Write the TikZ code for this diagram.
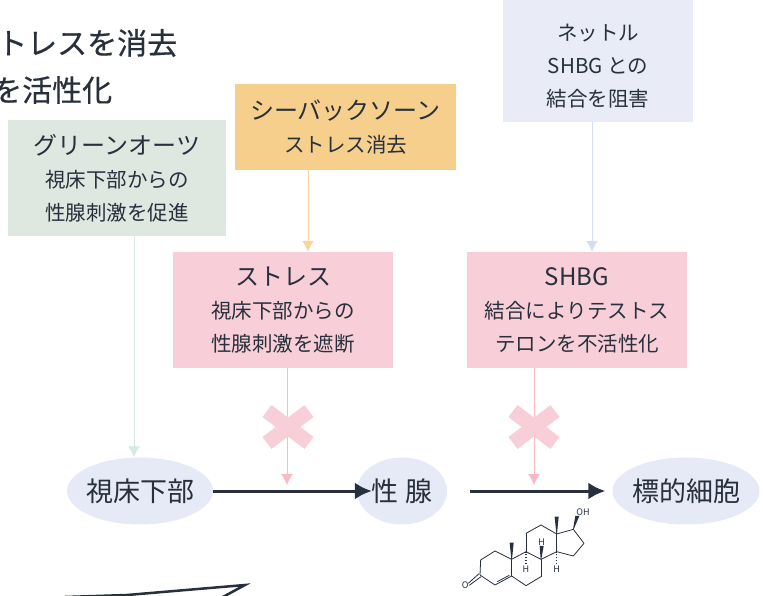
\documentclass[tikz,border=0pt]{standalone}
\usepackage{fontspec}
\setmainfont{Noto Sans CJK JP}
\newfontfamily\headfont[FakeBold=0.5]{Noto Sans CJK JP}
\usetikzlibrary{arrows.meta, calc, shapes.geometric}

\definecolor{inkblue}{HTML}{27303C}
\definecolor{greenfill}{HTML}{DEE8E1}
\definecolor{orangefill}{HTML}{F6CF8C}
\definecolor{bluefill}{HTML}{E9ECF6}
\definecolor{pinkfill}{HTML}{F8CFD8}
\definecolor{ovalfill}{HTML}{E6E9F6}
\definecolor{greenline}{HTML}{D5EBE2}
\definecolor{blueline}{HTML}{D3DFF1}

\newcommand{\boxhead}{\fontsize{24}{33}\selectfont}

\begin{document}
\begin{tikzpicture}[
    x=1pt, y=-1pt,
    labelbox/.style={rectangle, inner sep=0pt, align=center, text=inkblue, font=\fontsize{20.5}{33}\selectfont},
    ovalnode/.style={ellipse, fill=ovalfill, inner sep=-3pt, text=inkblue, font=\fontsize{27}{30}\selectfont},
    headline/.style={anchor=west, inner sep=0pt, text=inkblue, font=\headfont\fontsize{30}{32}\selectfont},
    paleline/.style={line width=1pt, -{Latex[length=11pt, width=12pt]}},
    mainline/.style={line width=3pt, color=inkblue, -{Latex[length=17pt, width=17pt]}},
    bond/.style={line width=0.8pt, color=inkblue},
    atom/.style={inner sep=0pt, text=inkblue, font=\fontsize{9}{9}\selectfont},
]

    \useasboundingbox (0, 0) rectangle (763, 596);
    \clip (0, 0) rectangle (763, 596);

    % heading, cut by the left edge
    \node [headline] (headone) at (-3, 43) {トレスを消去};
    \node [headline] (headtwo) at (-8, 90) {を活性化};

    % boxes
    \node [labelbox, fill=greenfill, minimum width=218, minimum height=116] (greenbox) at (117, 178)
        {\boxhead グリーンオーツ\\視床下部からの\\性腺刺激を促進};
    \node [labelbox, fill=orangefill, minimum width=221, minimum height=86] (orangebox) at (345.5, 127)
        {\boxhead シーバックソーン\\ストレス消去};
    \node [labelbox, fill=bluefill, minimum width=190, minimum height=122] (bluebox) at (598, 61)
        {\rule{0pt}{27pt}ネットル\\SHBG との\\結合を阻害};
    \node [labelbox, fill=pinkfill, minimum width=220, minimum height=116] (stressbox) at (283, 310)
        {\boxhead ストレス\\視床下部からの\\性腺刺激を遮断};
    \node [labelbox, fill=pinkfill, minimum width=220, minimum height=116] (shbgbox) at (577, 310)
        {\boxhead SHBG\\結合によりテストス\\テロンを不活性化};

    % ovals
    \node [ovalnode, minimum width=146, minimum height=67] (hypothalamus) at (140, 491) {視床下部};
    \node [ovalnode, minimum width=90, minimum height=67] (gonad) at (402, 491) {性 腺};
    \node [ovalnode, minimum width=147, minimum height=67] (target) at (686, 491) {標的細胞};

    % free ends of the blocked arrows
    \coordinate (stresstip) at (287, 485);
    \coordinate (shbgtip) at (534, 485);

    % pale arrows
    \draw [paleline, color=greenline] ([xshift=17]greenbox.south) -- ([xshift=-6]hypothalamus.north);
    \draw [paleline, color=orangefill!85!white] ([xshift=-37.5]orangebox.south) -- ([xshift=25]stressbox.north);
    \draw [paleline, color=blueline] ([xshift=-6]bluebox.south) -- ([xshift=15]shbgbox.north);
    \draw [paleline, color=pinkfill!90!red] ([xshift=4]stressbox.south) -- (stresstip);
    \draw [paleline, color=pinkfill!90!red] ([xshift=-43]shbgbox.south) -- (shbgtip);

    % crosses
    \foreach \x in {288, 534}
    {
        \draw [line width=15pt, color=pinkfill] ({\x-21}, 411) -- ({\x+21}, 443);
        \draw [line width=15pt, color=pinkfill] ({\x-21}, 443) -- ({\x+21}, 411);
    }

    % main arrows
    \draw [mainline] (hypothalamus.east) -- ([xshift=15]gonad.west);
    \draw [mainline] ([xshift=23]gonad.east) -- ([xshift=-7]target.west);

    % cut arrow at the bottom
    \draw [line width=2.5pt, color=inkblue] (65, 597) -- (127, 595) -- (245, 585) -- (221, 598);

    % steroid
    \begin{scope}[shift={(440, 440)}, x=0.3333pt, y=-0.3333pt]
        \foreach \name/\px/\py in {
        a/120/405, b/122/360, c/165/333, d/215/358, e/215/408, f/165/435,
        g/258/335, h/303/358, i/303/410, j/258/437,
        k/258/280, l/303/255, m/350/282, n/350/335,
        o/400/268, p/432/310, q/400/348,
        r/215/308, s/350/230, t/412/228, u/258/372, v/305/318, w/350/372}
        {
            \coordinate (\name) at (\px, \py);
        }

        % ring bonds
        \foreach \start/\end in {
        a/b, b/c, c/d, d/e, e/f, f/a,
        d/g, g/h, h/i, i/j, j/e,
        g/k, k/l, l/m, m/n, n/h,
        m/o, o/p, p/q, q/n}
        {
            \draw [bond] (\start) -- (\end);
        }

        % double bonds
        \draw [bond] (172, 425) -- (208, 406);
        \draw [bond] (85, 430) -- (117, 401);
        \draw [bond] (88, 436) -- (123, 410);

        % wedge bonds
        \foreach \tip/\root in {r/d, s/m, t/o, v/h}
        {
            \fill [inkblue] ($(\root)+(-1,0)$) -- ($(\tip)+(-6,0)$) -- ($(\tip)+(6,0)$) -- ($(\root)+(1,0)$) -- cycle;
        }

        % hashed bonds
        \foreach \tip/\root in {u/g, w/n}
        {
            \draw [bond, dotted, line width=1.6pt] (\root) -- (\tip);
        }

        % atoms
        \node [atom] (oxygen) at (76, 437) {O};
        \node [atom] (hydroxyl) at (429, 216) {OH};
        \node [atom] (hleft) at (258, 387) {H};
        \node [atom] (hmid) at (305, 306) {H};
        \node [atom] (hright) at (350, 388) {H};
    \end{scope}

\end{tikzpicture}
\end{document}
